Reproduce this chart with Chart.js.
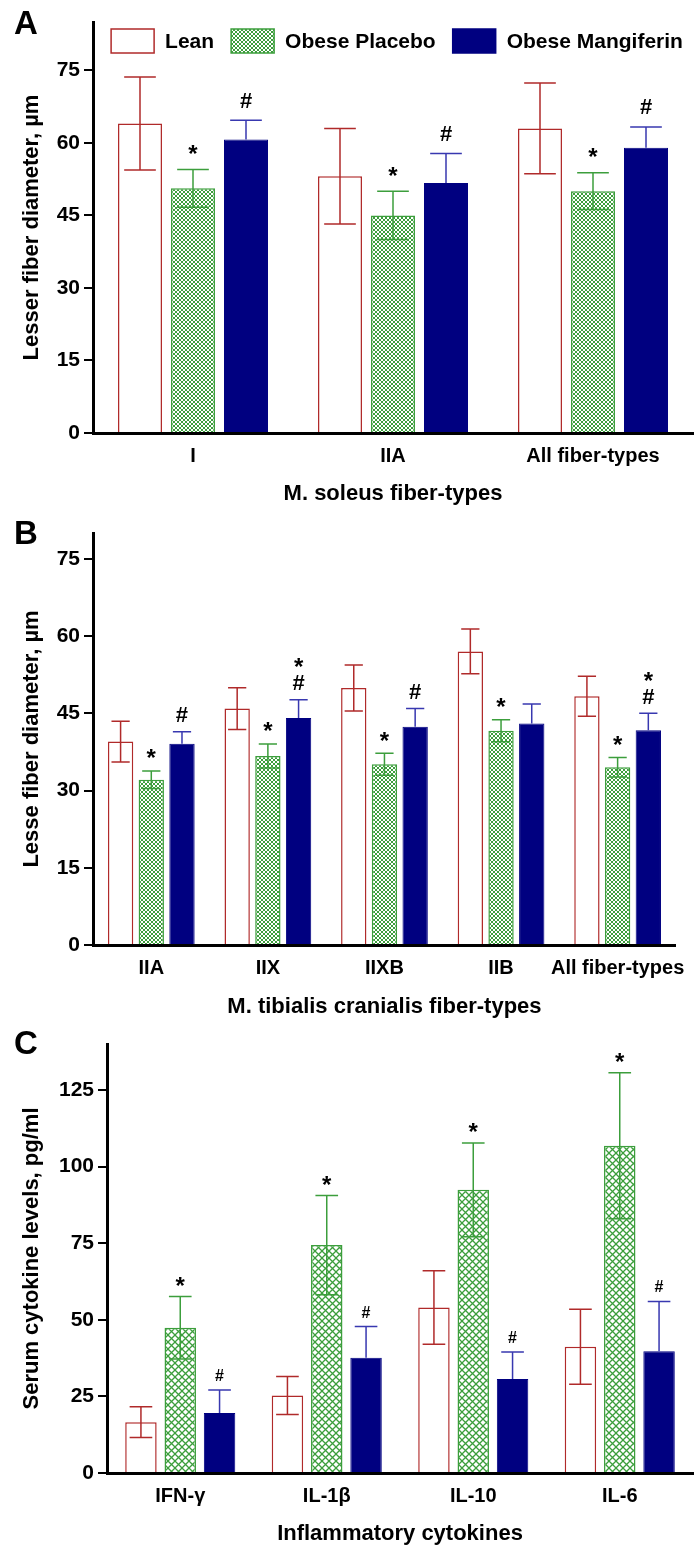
<!DOCTYPE html>
<html>
<head>
<meta charset="utf-8">
<script src="https://cdn.jsdelivr.net/npm/chart.js@4.4.1/dist/chart.umd.min.js"></script>
<style>
  body { margin: 0; background: #fff; width: 696px; height: 1551px; overflow: hidden; }
  .panel { position: absolute; left: 0; width: 696px; }
</style>
</head>
<body>
<div class="panel" style="top:0;height:510px"><canvas id="chartA" width="696" height="510"></canvas></div>
<div class="panel" style="top:510px;height:510px"><canvas id="chartB" width="696" height="510"></canvas></div>
<div class="panel" style="top:1020px;height:531px"><canvas id="chartC" width="696" height="531"></canvas></div>
<script>
// ---- data ----
const groupNames = ['Lean', 'Obese Placebo', 'Obese Mangiferin'];

// A: M. soleus
const soleusTypes = ['I', 'IIA', 'All fiber-types'];
const soleusLean = [64.0, 53.1, 63.0];
const soleusLeanSd = [9.6, 9.9, 9.4];
const soleusPlacebo = [50.6, 45.0, 50.0];
const soleusPlaceboSd = [3.9, 5.0, 3.8];
const soleusMang = [60.7, 51.7, 59.0];
const soleusMangSd = [4.0, 6.1, 4.3];
const soleusPlaceboMarks = ['*', '*', '*'];
const soleusMangMarks = ['#', '#', '#'];

// B: M. tibialis cranialis
const tibialisTypes = ['IIA', 'IIX', 'IIXB', 'IIB', 'All fiber-types'];
const tibialisLean = [39.5, 45.9, 49.9, 57.0, 48.3];
const tibialisLeanSd = [3.95, 4.05, 4.45, 4.35, 3.9];
const tibialisPlacebo = [32.1, 36.7, 35.1, 41.6, 34.5];
const tibialisPlaceboSd = [1.7, 2.35, 2.15, 2.15, 1.9];
const tibialisMang = [39.1, 44.1, 42.4, 43.0, 41.7];
const tibialisMangSd = [2.3, 3.5, 3.5, 3.8, 3.3];
const tibialisPlaceboMarks = ['*', '*', '*', '*', '*'];
const tibialisMangMarks = ['#', '*#', '#', '', '*#'];

// C: cytokines
const cytokines = ['IFN-γ', 'IL-1β', 'IL-10', 'IL-6'];
const cytoLean = [16.6, 25.3, 54.0, 41.2];
const cytoLeanSd = [5.0, 6.2, 12.0, 12.2];
const cytoPlacebo = [47.4, 74.4, 92.4, 106.8];
const cytoPlaceboSd = [10.2, 16.2, 15.3, 23.8];
const cytoMang = [19.6, 37.6, 30.7, 39.7];
const cytoMangSd = [7.5, 10.2, 8.8, 16.3];
const cytoPlaceboMarks = ['*', '*', '*', '*'];
const cytoMangMarks = ['#', '#', '#', '#'];

// ---- styles ----
const FONT = "'Liberation Sans', Arial, sans-serif";
const leanColor = '#b02a2a';
const placeboColor = '#3c9e3c';
const mangFill = '#000080';
const mangErr = '#3838b0';

Chart.defaults.font.family = FONT;
Chart.defaults.color = '#000';

function hatch(size, color, lw) {
    const c = document.createElement('canvas');
    c.width = c.height = size;
    const g = c.getContext('2d');
    g.fillStyle = '#fff';
    g.fillRect(0, 0, size, size);
    g.strokeStyle = color;
    g.lineWidth = lw;
    g.beginPath();
    g.moveTo(0, 0); g.lineTo(size, size);
    g.moveTo(size, 0); g.lineTo(0, size);
    g.stroke();
    return g.createPattern(c, 'repeat');
}

const errorBars = {
    id: 'errorBars',
    afterDatasetsDraw(chart) {
        const ctx = chart.ctx;
        const y = chart.scales.y;
        const mk = chart.config.options.markStyle;
        chart.data.datasets.forEach((ds, i) => {
            const meta = chart.getDatasetMeta(i);
            meta.data.forEach((bar, j) => {
                const v = ds.data[j], e = ds.sd[j];
                const half = bar.width * 0.36;
                const yt = y.getPixelForValue(v + e);
                const yb = y.getPixelForValue(ds.lowerBar ? v - e : v);
                ctx.save();
                ctx.strokeStyle = ds.errColor;
                ctx.lineWidth = 1.5;
                ctx.beginPath();
                ctx.moveTo(bar.x, yb); ctx.lineTo(bar.x, yt);
                ctx.moveTo(bar.x - half, yt); ctx.lineTo(bar.x + half, yt);
                if (ds.lowerBar) { ctx.moveTo(bar.x - half, yb); ctx.lineTo(bar.x + half, yb); }
                ctx.stroke();
                const m = ds.marks[j] || '';
                let centre = yt - mk.gap;
                ctx.fillStyle = '#000';
                ctx.textAlign = 'center';
                ctx.textBaseline = 'alphabetic';
                for (let k = m.length - 1; k >= 0; k--) {
                    const ch = m[k];
                    ctx.font = 'bold ' + (ch === '#' ? mk.hashSize : mk.starSize) + 'px ' + FONT;
                    const tm = ctx.measureText(ch);
                    const base = centre + (tm.actualBoundingBoxAscent - tm.actualBoundingBoxDescent) / 2;
                    ctx.fillText(ch, bar.x, base);
                    centre -= mk.step;
                }
                ctx.restore();
            });
        });
    }
};

// legend drawn inside the plot area, as in the original figure
const insideLegend = {
    id: 'insideLegend',
    afterDraw(chart) {
        const lg = chart.config.options.insideLegend;
        if (!lg) return;
        const ctx = chart.ctx;
        ctx.save();
        ctx.font = 'bold 21px ' + FONT;
        const items = chart.data.datasets.map(ds => ({ ds, w: ctx.measureText(ds.label).width }));
        const total = items.reduce((a, it) => a + lg.boxW + lg.textGap + it.w, 0) + lg.spacing * (items.length - 1);
        let x = (chart.chartArea.left + chart.chartArea.right) / 2 - total / 2 + lg.shift;
        items.forEach(it => {
            ctx.fillStyle = it.ds.backgroundColor;
            ctx.fillRect(x, lg.top, lg.boxW, lg.boxH);
            ctx.strokeStyle = it.ds.borderColor;
            ctx.lineWidth = 1.5;
            ctx.strokeRect(x, lg.top, lg.boxW, lg.boxH);
            ctx.fillStyle = '#000';
            ctx.textBaseline = 'middle';
            ctx.textAlign = 'left';
            ctx.fillText(it.ds.label, x + lg.boxW + lg.textGap, lg.top + lg.boxH / 2 + 1);
            x += lg.boxW + lg.textGap + it.w + lg.spacing;
        });
        ctx.restore();
    }
};

function panelLabel(text) {
    return {
        id: 'panelLabel',
        afterDraw(chart) {
            const ctx = chart.ctx;
            ctx.save();
            ctx.font = 'bold 33px ' + FONT;
            ctx.fillStyle = '#000';
            ctx.textBaseline = 'alphabetic';
            ctx.fillText(text, 14, 34);
            ctx.restore();
        }
    };
}

function makeDatasets(lean, leanSd, plac, placSd, mang, mangSd, placMarks, mangMarks, pattern) {
    return [{
        label: groupNames[0], data: lean, sd: leanSd, marks: [],
        backgroundColor: '#fff', borderColor: leanColor, borderWidth: 1.5,
        errColor: leanColor, lowerBar: true
    }, {
        label: groupNames[1], data: plac, sd: placSd, marks: placMarks,
        backgroundColor: pattern, borderColor: placeboColor, borderWidth: 1.5,
        errColor: placeboColor, lowerBar: true
    }, {
        label: groupNames[2], data: mang, sd: mangSd, marks: mangMarks,
        backgroundColor: mangFill, borderColor: mangFill, borderWidth: 1,
        errColor: mangErr, lowerBar: false
    }];
}

function render(canvasId, p) {
    const ctx = document.getElementById(canvasId).getContext('2d');
    return new Chart(ctx, {
        type: 'bar',
        data: { labels: p.labels, datasets: p.datasets },
        options: {
            responsive: false,
            animation: false,
            markStyle: p.markStyle,
            insideLegend: p.legend,
            layout: { padding: { top: p.top, right: p.right, left: 0, bottom: 0 } },
            datasets: { bar: { categoryPercentage: p.catPct, barPercentage: p.barPct } },
            plugins: {
                tooltip: { enabled: false },
                legend: { display: false }
            },
            scales: {
                x: {
                    grid: { display: false, drawTicks: false },
                    border: { display: true, color: '#000', width: 3 },
                    ticks: { font: { size: 20, weight: 'bold' }, color: '#000', padding: 11, maxRotation: 0, autoSkip: false },
                    title: { display: true, text: p.xTitle, font: { size: 22, weight: 'bold' }, color: '#000', padding: { top: 0, bottom: p.xTitlePad } },
                    afterFit: (s) => { s.height = p.xHeight; }
                },
                y: {
                    min: 0, max: p.yMax,
                    grid: { display: true, drawOnChartArea: false, drawTicks: true, tickLength: 9, color: '#000', lineWidth: 2 },
                    border: { display: true, color: '#000', width: 3 },
                    ticks: { stepSize: p.step, includeBounds: false, font: { size: 21, weight: 'bold' }, color: '#000', padding: 4 },
                    title: { display: true, text: p.yTitle, font: { size: 22, weight: 'bold' }, color: '#000', padding: { top: 19, bottom: 0 } },
                    afterFit: (s) => { s.width = p.yWidth; }
                }
            }
        },
        plugins: [errorBars, insideLegend, panelLabel(p.letter)]
    });
}

const fineHatch = hatch(4, placeboColor, 1);
const coarseHatch = hatch(7, placeboColor, 1.3);

render('chartA', {
    letter: 'A', labels: soleusTypes,
    legend: { top: 29, boxW: 43, boxH: 24, textGap: 11, spacing: 17, shift: 4 },
    datasets: makeDatasets(soleusLean, soleusLeanSd, soleusPlacebo, soleusPlaceboSd, soleusMang, soleusMangSd,
        soleusPlaceboMarks, soleusMangMarks, fineHatch),
    top: 22, right: 3, yWidth: 93, xHeight: 77, yMax: 85, step: 15, catPct: 0.795, barPct: 0.83,
    xTitle: 'M. soleus fiber-types', xTitlePad: 3, yTitle: 'Lesser fiber diameter, µm',
    markStyle: { gap: 20, step: 20, starSize: 24, hashSize: 22 }
});

render('chartB', {
    letter: 'B', labels: tibialisTypes, legend: null,
    datasets: makeDatasets(tibialisLean, tibialisLeanSd, tibialisPlacebo, tibialisPlaceboSd, tibialisMang, tibialisMangSd,
        tibialisPlaceboMarks, tibialisMangMarks, fineHatch),
    top: 23, right: 7, yWidth: 93, xHeight: 75, yMax: 80, step: 15, catPct: 0.79, barPct: 0.825,
    xTitle: 'M. tibialis cranialis fiber-types', xTitlePad: 0, yTitle: 'Lesse fiber diameter, µm',
    markStyle: { gap: 17, step: 20, starSize: 24, hashSize: 22 }
});

render('chartC', {
    letter: 'C', labels: cytokines, legend: null,
    datasets: makeDatasets(cytoLean, cytoLeanSd, cytoPlacebo, cytoPlaceboSd, cytoMang, cytoMangSd,
        cytoPlaceboMarks, cytoMangMarks, coarseHatch),
    top: 24, right: 3, yWidth: 107, xHeight: 78, yMax: 140, step: 25, catPct: 0.805, barPct: 0.8,
    xTitle: 'Inflammatory cytokines', xTitlePad: 4, yTitle: 'Serum cytokine levels, pg/ml',
    markStyle: { gap: 15, step: 20, starSize: 24, hashSize: 16 }
});
</script>
</body>
</html>
